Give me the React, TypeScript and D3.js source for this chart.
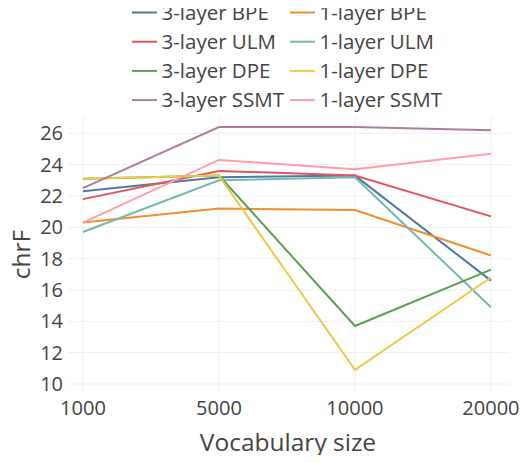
import { useEffect, useRef } from 'react';
import * as d3 from 'd3';

// vocabulary sizes (categorical x axis)
const vocab = ['1000', '5000', '10000', '20000'];

const bpe3 = [22.3, 23.2, 23.3, 16.6];
const bpe1 = [20.3, 21.2, 21.1, 18.2];
const ulm3 = [21.8, 23.6, 23.3, 20.7];
const ulm1 = [19.7, 23.0, 23.2, 14.9];
const dpe3 = [23.1, 23.3, 13.7, 17.3];
const dpe1 = [23.1, 23.3, 10.9, 16.8];
const ssmt3 = [22.5, 26.4, 26.4, 26.2];
const ssmt1 = [20.3, 24.3, 23.7, 24.7];

const yTicks = [10, 12, 14, 16, 18, 20, 22, 24, 26];

const seriesNames = [
  '3-layer BPE', '1-layer BPE', '3-layer ULM', '1-layer ULM',
  '3-layer DPE', '1-layer DPE', '3-layer SSMT', '1-layer SSMT',
];
const seriesValues = [bpe3, bpe1, ulm3, ulm1, dpe3, dpe1, ssmt3, ssmt1];
const colors = [
  '#4e79a7', '#f28e2b', '#e15759', '#76b7b2',
  '#59a14f', '#edc948', '#b07aa1', '#ff9da7',
];

export default function App() {
  const svgRef = useRef<SVGSVGElement>(null);

  useEffect(() => {
    if (!svgRef.current) return;
    const svg = d3.select(svgRef.current);
    svg.selectAll('*').remove();

    const width = 532;
    const height = 463;
    const font = '"Open Sans", sans-serif';
    const textColor = '#444';

    // plot area
    const left = 68, right = 510, top = 117, bottom = 392;

    const x = d3.scaleLinear().domain([-0.11, 3.14]).range([left, right]);
    const y = d3.scaleLinear().domain([9.49, 27.04]).range([bottom, top]);

    svg.attr('width', width).attr('height', height);

    // grid
    const grid = svg.append('g');
    grid.selectAll('line.v')
      .data(vocab)
      .join('line')
      .attr('x1', (d, i) => x(i)).attr('x2', (d, i) => x(i))
      .attr('y1', top).attr('y2', bottom)
      .attr('stroke', '#eee').attr('stroke-width', 1);
    grid.selectAll('line.h')
      .data(yTicks)
      .join('line')
      .attr('x1', left).attr('x2', right)
      .attr('y1', d => y(d)).attr('y2', d => y(d))
      .attr('stroke', '#eee').attr('stroke-width', 1);

    // lines
    const line = d3.line<number>()
      .x((d, i) => x(i))
      .y(d => y(d));

    seriesValues.forEach((vals, i) => {
      svg.append('path')
        .datum(vals)
        .attr('fill', 'none')
        .attr('stroke', colors[i])
        .attr('stroke-width', 2)
        .attr('d', line);
    });

    // tick labels
    svg.append('g').selectAll('text')
      .data(yTicks)
      .join('text')
      .attr('x', 63)
      .attr('y', d => y(d))
      .attr('dy', '0.35em')
      .attr('text-anchor', 'end')
      .attr('font-family', font)
      .attr('font-size', 20)
      .attr('fill', textColor)
      .text(d => d);

    svg.append('g').selectAll('text')
      .data(vocab)
      .join('text')
      .attr('x', (d, i) => x(i))
      .attr('y', 415)
      .attr('text-anchor', 'middle')
      .attr('font-family', font)
      .attr('font-size', 20)
      .attr('fill', textColor)
      .text(d => d);

    // axis titles
    svg.append('text')
      .attr('x', 288)
      .attr('y', 451)
      .attr('text-anchor', 'middle')
      .attr('font-family', font)
      .attr('font-size', 24.5)
      .attr('fill', textColor)
      .text('Vocabulary size');

    svg.append('text')
      .attr('transform', `translate(30,${(top + bottom) / 2}) rotate(-90)`)
      .attr('text-anchor', 'middle')
      .attr('font-family', font)
      .attr('font-size', 24.5)
      .attr('fill', textColor)
      .text('chrF');

    // legend, two columns
    const legend = svg.append('g');
    seriesNames.forEach((name, i) => {
      const col = i % 2;
      const row = Math.floor(i / 2);
      const lx = col === 0 ? 132 : 290;
      const ly = 12.5 + row * 29.2;
      legend.append('line')
        .attr('x1', lx).attr('x2', lx + 25)
        .attr('y1', ly).attr('y2', ly)
        .attr('stroke', colors[i])
        .attr('stroke-width', 2);
      legend.append('text')
        .attr('x', lx + 29.5)
        .attr('y', ly + 7)
        .attr('font-family', font)
        .attr('font-size', 20.5)
        .attr('fill', textColor)
        .text(name);
    });
  }, []);

  return <svg ref={svgRef} style={{ display: 'block', margin: '-8px' }}></svg>;
}
